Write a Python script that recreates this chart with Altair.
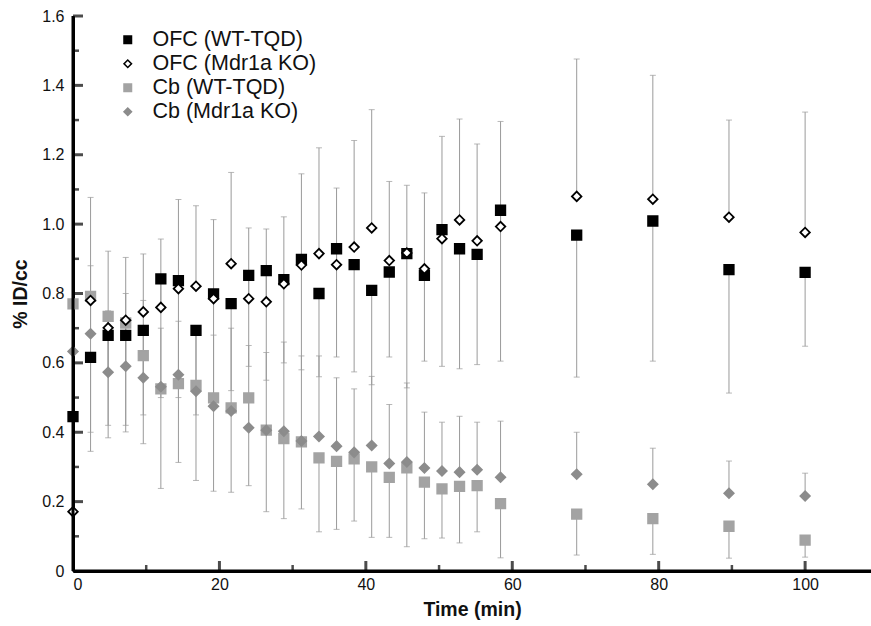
import altair as alt
import pandas as pd

# ---- data ----
times = [0, 2.4, 4.8, 7.2, 9.6, 12.0, 14.4, 16.8, 19.2, 21.6, 24.0, 26.4, 28.8, 31.2,
         33.6, 36.0, 38.4, 40.8, 43.2, 45.6, 48.0, 50.4, 52.8, 55.2, 58.4, 68.8, 79.2,
         89.6, 100.0]

ofc_wt = [0.445, 0.616, 0.679, 0.679, 0.694, 0.842, 0.837, 0.694, 0.799, 0.771, 0.852,
          0.866, 0.840, 0.898, 0.800, 0.929, 0.883, 0.809, 0.862, 0.915, 0.852, 0.984,
          0.929, 0.913, 1.040, 0.968, 1.009, 0.869, 0.861]
ofc_wt_low = [None, 0.40, 0.42, 0.42, 0.45, 0.50, 0.50, 0.45, 0.50, 0.52, 0.59, 0.55,
              0.60, 0.58, 0.56, 0.617, 0.574, 0.537, 0.617, 0.528, 0.605, 0.590, 0.583,
              0.595, 0.605, 0.559, 0.605, 0.513, 0.648]

ofc_ko = [0.171, 0.780, 0.701, 0.723, 0.747, 0.760, 0.814, 0.821, 0.785, 0.886, 0.785,
          0.776, 0.828, 0.882, 0.915, 0.883, 0.934, 0.989, 0.895, 0.917, 0.871, 0.958,
          1.012, 0.952, 0.993, 1.080, 1.072, 1.020, 0.976]
ofc_ko_high = [None, 1.077, 0.922, 0.904, 0.914, 0.957, 1.071, 1.053, 1.013, 1.149, 0.989,
               0.986, 1.021, 1.145, 1.220, 1.104, 1.241, 1.330, 1.123, 1.112, 1.090, 1.253,
               1.303, 1.231, 1.296, 1.476, 1.429, 1.300, 1.323]

cb_wt = [0.770, 0.792, 0.734, 0.715, 0.621, 0.525, 0.540, 0.535, 0.499, 0.470, 0.499,
         0.406, 0.382, 0.372, 0.326, 0.316, 0.323, 0.300, 0.270, 0.297, 0.256, 0.237,
         0.244, 0.246, 0.194, 0.164, 0.151, 0.129, 0.089]
cb_wt_low = [None, 0.345, 0.384, 0.401, 0.367, 0.238, 0.313, 0.261, 0.230, 0.227, 0.246,
             0.171, 0.151, 0.179, 0.113, 0.120, 0.144, 0.097, 0.097, 0.070, 0.093, 0.095,
             0.081, 0.113, 0.038, 0.046, 0.048, 0.037, 0.040]

cb_ko = [0.633, 0.684, 0.573, 0.590, 0.557, 0.531, 0.566, 0.518, 0.475, 0.461, 0.413,
         0.406, 0.403, 0.375, 0.388, 0.360, 0.342, 0.362, 0.310, 0.314, 0.297, 0.288,
         0.285, 0.292, 0.270, 0.279, 0.250, 0.224, 0.216]
cb_ko_high = [None, 0.88, 0.75, 0.80, 0.78, 0.70, 0.72, 0.70, 0.68, 0.70, 0.65, 0.63,
              0.66, 0.62, 0.62, 0.557, 0.525, 0.561, 0.480, 0.542, 0.458, 0.429, 0.446,
              0.429, 0.432, 0.400, 0.354, 0.317, 0.282]

series_names = ["OFC (WT-TQD)", "OFC (Mdr1a KO)", "Cb (WT-TQD)", "Cb (Mdr1a KO)"]
fills = ["#000000", "#ffffff", "#a3a3a3", "#8c8c8c"]
strokes = ["#000000", "#000000", "#a3a3a3", "#8c8c8c"]
shapes = ["square", "diamond", "square", "diamond"]

y_major = [0, 0.2, 0.4, 0.6, 0.8, 1.0, 1.2, 1.4, 1.6]
y_minor = [0.1, 0.3, 0.5, 0.7, 0.9, 1.1, 1.3, 1.5]
x_major = [0, 20, 40, 60, 80, 100]
x_minor = [10, 30, 50, 70, 90]
x_max = 109
y_max = 1.6

# ---- tables ----
vals = {series_names[0]: ofc_wt, series_names[1]: ofc_ko,
        series_names[2]: cb_wt, series_names[3]: cb_ko}
draw_order = [series_names[2], series_names[3], series_names[0], series_names[1]]
pts = pd.DataFrame([{"time": t, "value": v, "series": s}
                    for s in draw_order for t, v in zip(times, vals[s])])

bars = []
for name, v, ends in [(series_names[0], ofc_wt, ofc_wt_low),
                      (series_names[1], ofc_ko, ofc_ko_high),
                      (series_names[2], cb_wt, cb_wt_low),
                      (series_names[3], cb_ko, cb_ko_high)]:
    for t, val, e in zip(times, v, ends):
        if e is None:
            continue
        bars.append({"time": t, "lo": min(val, e), "hi": max(val, e), "end": e})
bars = pd.DataFrame(bars)

xt_major = pd.DataFrame({"t": x_major[1:]})
xt_minor = pd.DataFrame({"t": x_minor})
yt_major = pd.DataFrame({"v": y_major[1:]})
yt_minor = pd.DataFrame({"v": y_minor})
one = pd.DataFrame({"k": [0]})

W, H = 798, 555
FONT = "Liberation Sans"

xs = alt.Scale(domain=[0, x_max], nice=False, zero=False)
ys = alt.Scale(domain=[0, y_max], nice=False, zero=False)

ax_x = alt.Axis(orient="bottom", values=x_major, ticks=False, grid=False,
                domain=True, domainColor="black", domainWidth=3,
                labelFont=FONT, labelFontSize=16, labelColor="#111", labelPadding=5,
                format="d", title="Time (min)", titleFont=FONT, titleFontSize=19.5,
                titleFontWeight="bold", titleColor="#111", titlePadding=8)
ax_y = alt.Axis(orient="left", values=y_major, ticks=False, grid=False,
                domain=True, domainColor="black", domainWidth=3,
                labelFont=FONT, labelFontSize=16, labelColor="#111", labelPadding=9,
                labelExpr="datum.value == 0 ? '0' : format(datum.value, '.1f')",
                title="% ID/cc", titleFont=FONT, titleFontSize=19.5,
                titleFontWeight="bold", titleColor="#111", titlePadding=11)


def X(field):
    return alt.X(field, scale=xs, axis=ax_x)


def Y(field):
    return alt.Y(field, scale=ys, axis=ax_y)


def XD(v):
    return alt.XDatum(v, type="quantitative", scale=xs, axis=ax_x)


def YD(v):
    return alt.YDatum(v, type="quantitative", scale=ys, axis=ax_y)


rules = alt.Chart(bars).mark_rule(color="#9a9a9a", strokeWidth=1).encode(
    x=X("time:Q"), y=Y("lo:Q"), y2="hi:Q")

caps = alt.Chart(bars).mark_tick(orient="horizontal", size=6, thickness=1,
                                 color="#9a9a9a").encode(x=X("time:Q"), y=Y("end:Q"))

# axis lines drawn through the scales
xline = alt.Chart(one).mark_rule(color="black", strokeWidth=3).encode(
    x=XD(0), x2=alt.X2Datum(x_max), y=YD(0))
yline = alt.Chart(one).mark_rule(color="black", strokeWidth=3).encode(
    x=XD(0), y=YD(0), y2=alt.Y2Datum(y_max))

# inward-pointing axis ticks
xmaj = alt.Chart(xt_major).mark_tick(orient="vertical", size=10, thickness=3,
                                     color="black").encode(
    x=X("t:Q"), y=YD(0), yOffset=alt.value(-5))
xmin = alt.Chart(xt_minor).mark_tick(orient="vertical", size=6, thickness=2.5,
                                     color="black").encode(
    x=X("t:Q"), y=YD(0), yOffset=alt.value(-3))
ymaj = alt.Chart(yt_major).mark_tick(orient="horizontal", size=10, thickness=3,
                                     color="black").encode(
    y=Y("v:Q"), x=XD(0), xOffset=alt.value(5))
ymin = alt.Chart(yt_minor).mark_tick(orient="horizontal", size=6, thickness=2.5,
                                     color="black").encode(
    y=Y("v:Q"), x=XD(0), xOffset=alt.value(3))

leg = alt.Legend(orient="none", legendX=44, legendY=13, title=None, labelFont=FONT,
                 labelFontSize=21.5, labelColor="#111", symbolSize=55, labelLimit=0,
                 symbolStrokeWidth=1.6, labelOffset=14, rowPadding=1, padding=0)

points = alt.Chart(pts).mark_point(size=90, strokeWidth=1.8, opacity=1).encode(
    x=X("time:Q"), y=Y("value:Q"),
    shape=alt.Shape("series:N", scale=alt.Scale(domain=series_names, range=shapes), legend=leg),
    fill=alt.Fill("series:N", scale=alt.Scale(domain=series_names, range=fills), legend=leg),
    stroke=alt.Stroke("series:N", scale=alt.Scale(domain=series_names, range=strokes), legend=leg),
)

chart = alt.layer(rules, caps, points, xline, yline, xmaj, xmin, ymaj, ymin).properties(
    width=W, height=H,
    autosize=alt.AutoSizeParams(type="none"),
    padding={"left": 73, "top": 16, "right": 0, "bottom": 55},
    background="white",
).configure_view(stroke=None)

chart.save("out.html", embed_options={"renderer": "svg", "actions": False})
